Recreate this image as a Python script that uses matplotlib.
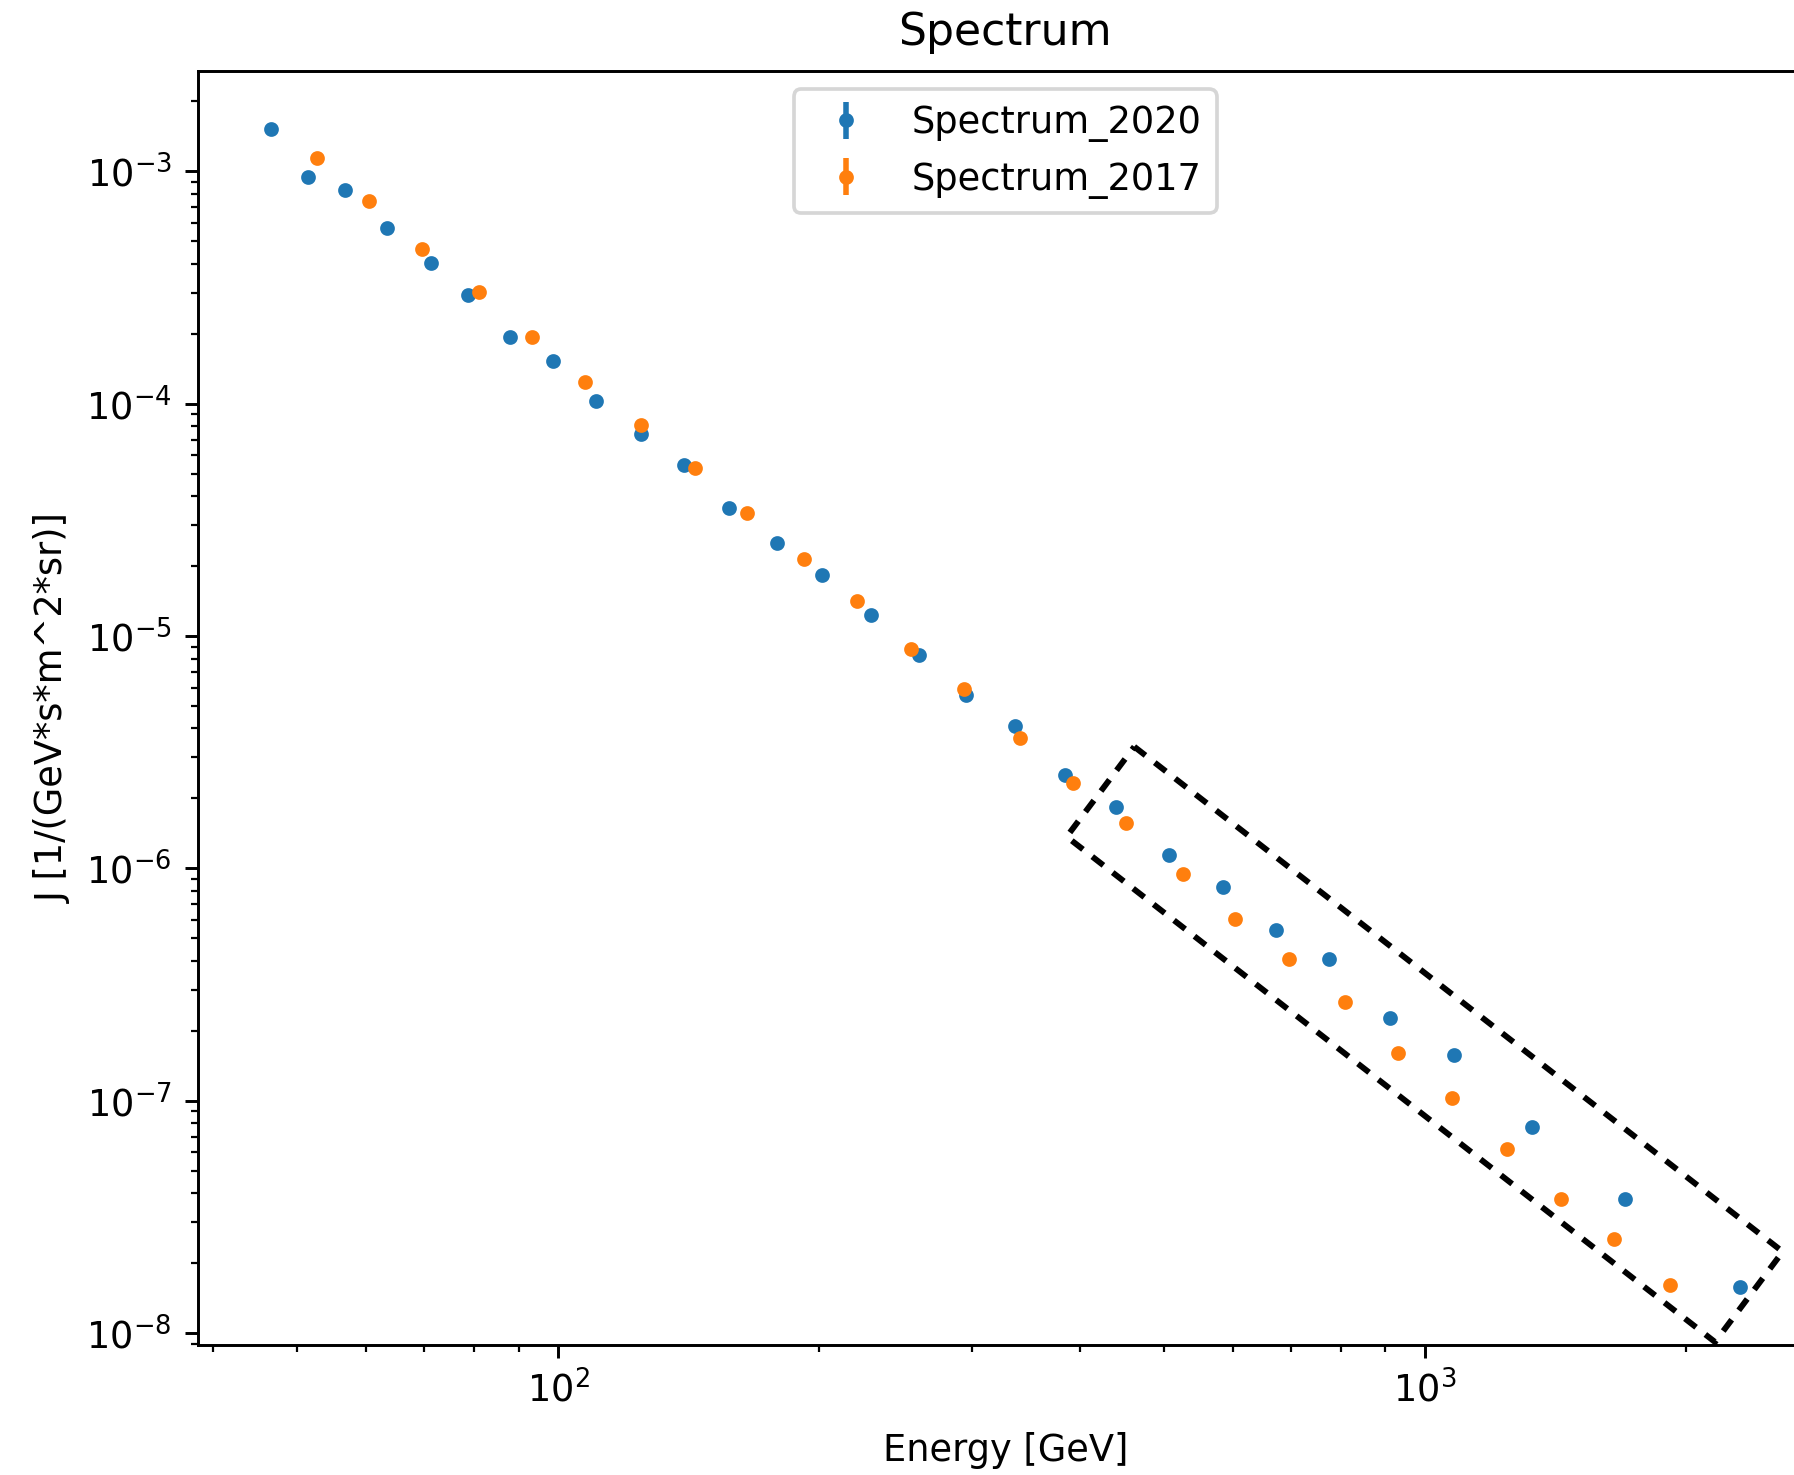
import matplotlib
matplotlib.use("Agg")
import matplotlib.pyplot as plt
from matplotlib.patches import Polygon

# ---- data ----
energy_2020 = [46.6, 51.4, 56.8, 63.5, 71.3, 78.6, 88.0, 98.6, 110.5, 124.6,
               139.5, 157.3, 179.0, 201.7, 229.3, 260.6, 295.8, 336.3, 384.4, 439.7,
               506.6, 584.7, 673.4, 775.7, 912.0, 1081.0, 1328.0, 1701.0, 2307.0]
flux_2020 = [1.521e-3, 9.45e-4, 8.28e-4, 5.70e-4, 4.04e-4, 2.94e-4, 1.93e-4, 1.525e-4, 1.023e-4, 7.39e-5,
             5.44e-5, 3.55e-5, 2.52e-5, 1.835e-5, 1.234e-5, 8.27e-6, 5.56e-6, 4.08e-6, 2.53e-6, 1.839e-6,
             1.143e-6, 8.32e-7, 5.45e-7, 4.07e-7, 2.28e-7, 1.567e-7, 7.71e-8, 3.76e-8, 1.578e-8]
err_2020 = [0.0] * len(flux_2020)

energy_2017 = [52.6, 60.5, 69.7, 80.9, 93.2, 107.4, 124.5, 143.6, 165.3, 191.9,
               221.1, 255.0, 294.0, 340.7, 392.6, 452.3, 525.3, 604.5, 696.5, 808.7,
               931.5, 1074.0, 1245.0, 1436.0, 1653.0, 1918.0]
flux_2017 = [1.138e-3, 7.45e-4, 4.63e-4, 3.02e-4, 1.93e-4, 1.234e-4, 8.09e-5, 5.28e-5, 3.38e-5, 2.15e-5,
             1.408e-5, 8.75e-6, 5.90e-6, 3.64e-6, 2.325e-6, 1.563e-6, 9.50e-7, 6.06e-7, 4.07e-7, 2.67e-7,
             1.609e-7, 1.030e-7, 6.22e-8, 3.76e-8, 2.54e-8, 1.614e-8]
err_2017 = [0.0] * len(flux_2017)

labels = ["Spectrum_2020", "Spectrum_2017"]

# dashed highlight box corners (figure pixels, y from top)
box_px = [(1134.3, 746.7), (1782.7, 1251.7), (1715.0, 1342.0), (1066.7, 836.7)]

W, H, DPI = 1794, 1475, 265
fig = plt.figure(figsize=(W / DPI, H / DPI), dpi=DPI)
ax = fig.add_axes([197.5 / W, 1 - 1345 / H, (1813 - 197.5) / W, (1345 - 71) / H])

ax.errorbar(energy_2020, flux_2020, yerr=err_2020, fmt='.', label=labels[0])
ax.errorbar(energy_2017, flux_2017, yerr=err_2017, fmt='.', label=labels[1])
ax.set_xscale('log')
ax.set_yscale('log')
ax.set_title("Spectrum", pad=7)
ax.set_xlabel("Energy [GeV]", labelpad=6)
ax.set_ylabel("J [1/(GeV*s*m^2*sr)]")
ax.legend(loc='upper center')

poly = Polygon([(x / W, 1 - y / H) for x, y in box_px], closed=True, fill=False,
               edgecolor='black', linewidth=1.6, linestyle=(0, (2.4, 2.0)),
               transform=fig.transFigure, clip_on=False, zorder=5)
fig.add_artist(poly)

fig.savefig("out.png", dpi=DPI)
